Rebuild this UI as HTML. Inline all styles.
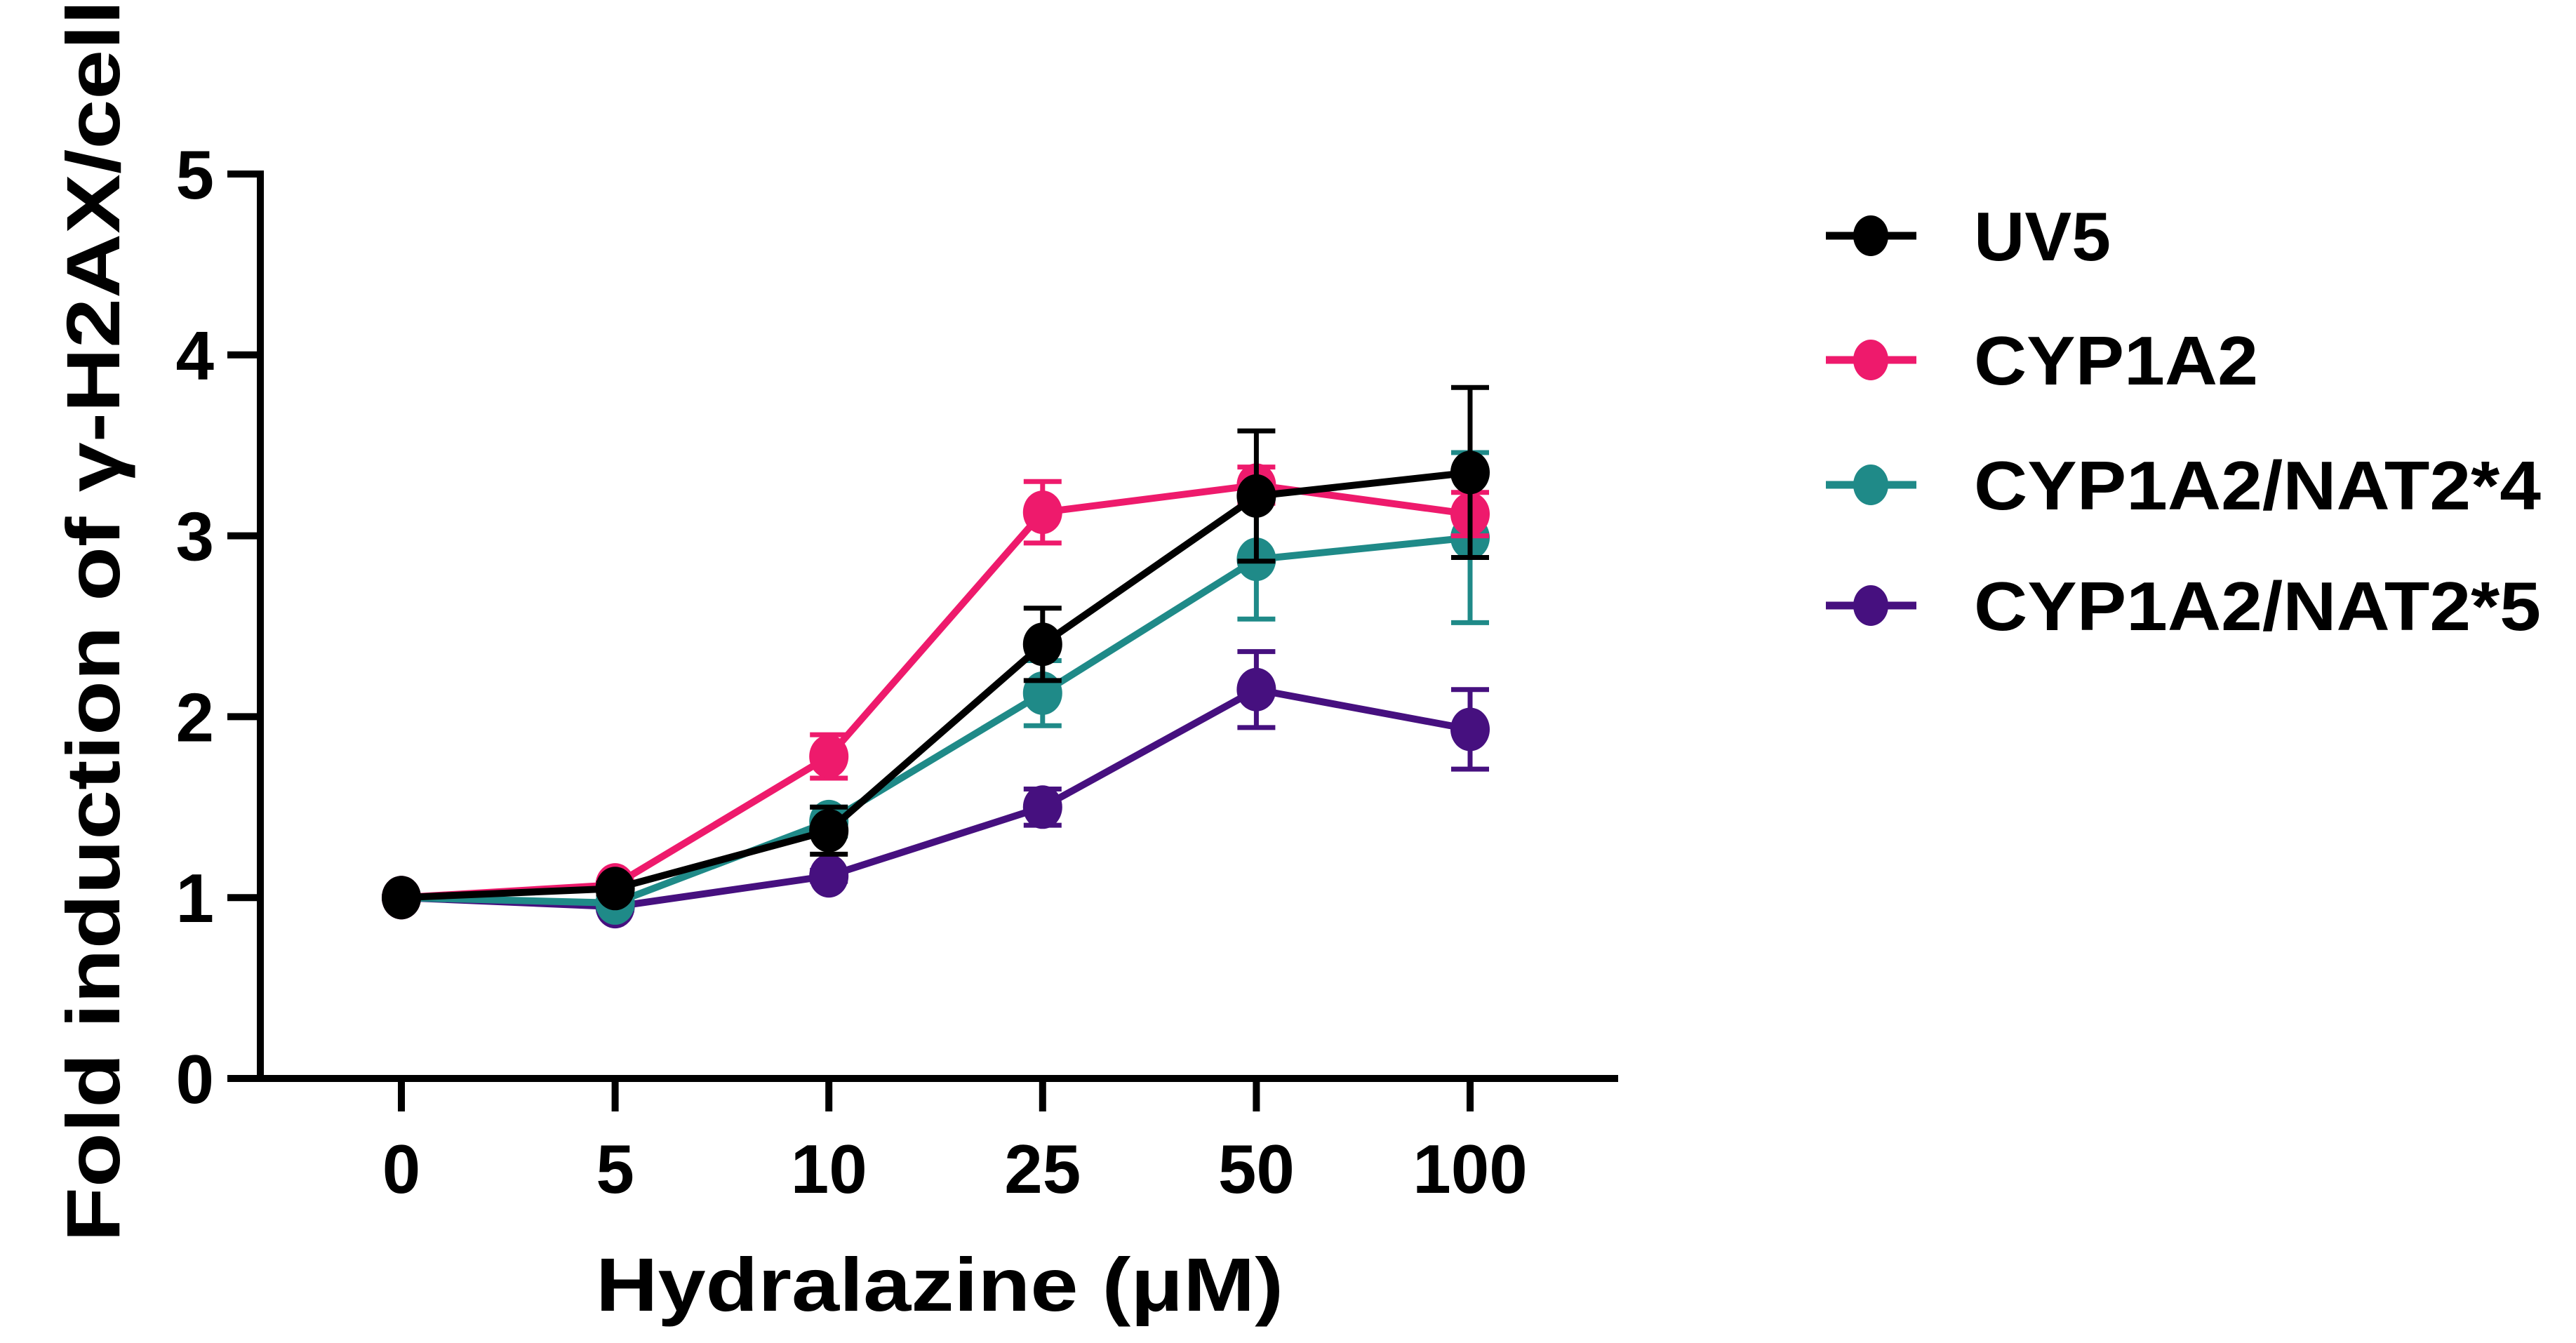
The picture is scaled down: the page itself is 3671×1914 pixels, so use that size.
<!DOCTYPE html>
<html><head><meta charset="utf-8"><style>
html,body{margin:0;padding:0;background:#fff;}
svg{display:block;font-family:"Liberation Sans",Arial,sans-serif;font-weight:bold;}
</style></head><body>
<svg id="chart" width="3671" height="1914" viewBox="0 0 3671 1914" xmlns="http://www.w3.org/2000/svg">
<g id="plot"></g>
<g id="axes"></g>
<g id="legend"></g>
<text x="1339" y="1868" font-size="108" text-anchor="middle" textLength="980" lengthAdjust="spacingAndGlyphs">Hydralazine (μM)</text>
<text transform="translate(170,885) rotate(-90)" font-size="108" text-anchor="middle" textLength="1770" lengthAdjust="spacingAndGlyphs">Fold induction of γ-H2AX/cell</text>
</svg>
<script>
const categories = ["0","5","10","25","50","100"];
const yTicks = [0,1,2,3,4,5];
const seriesNames = ["UV5","CYP1A2","CYP1A2/NAT2*4","CYP1A2/NAT2*5"];
const seriesColors = ["#000000","#ee1a6c","#1f8a88","#46107f"];
const uv5 = [1,1.05,1.37,2.40,3.22,3.35];
const uv5Err = [0,0.03,0.13,0.20,0.36,0.47];
const cyp = [1,1.07,1.78,3.13,3.28,3.12];
const cypErr = [0,0.02,0.12,0.17,0.10,0.12];
const nat4 = [1,0.97,1.42,2.13,2.87,2.99];
const nat4Err = [0,0.03,0.08,0.18,0.33,0.47];
const nat5 = [1,0.95,1.12,1.50,2.15,1.93];
const nat5Err = [0,0.02,0.03,0.10,0.21,0.22];

const NS="http://www.w3.org/2000/svg";
const X0=572, XSTEP=304.6, Y0=1537, YUNIT=257.8;
function xs(i){return X0+i*XSTEP;}
function ys(v){return Y0-v*YUNIT;}
function mk(tag,attrs,parent){const e=document.createElementNS(NS,tag);for(const k in attrs)e.setAttribute(k,attrs[k]);parent.appendChild(e);return e;}
const axes=document.getElementById('axes'), plot=document.getElementById('plot'), legend=document.getElementById('legend');

let a=mk('line',{x1:371,y1:ys(5)-5,x2:371,y2:Y0+5,stroke:'#000','stroke-width':10},axes);


a=mk('line',{x1:324,y1:Y0,x2:2306,y2:Y0,stroke:'#000','stroke-width':10},axes);


yTicks.forEach(t=>{
  let l=mk('line',{x1:324,y1:ys(t),x2:371,y2:ys(t),stroke:'#000','stroke-width':10},axes);
  
  
  let tx=mk('text',{x:305,y:ys(t)+35,'font-size':98,'text-anchor':'end'},axes);
  tx.textContent=t;
  
  
});
categories.forEach((c,i)=>{
  let l=mk('line',{x1:xs(i),y1:Y0,x2:xs(i),y2:Y0+47,stroke:'#000','stroke-width':10},axes);
  
  
  let tx=mk('text',{x:xs(i),y:1700,'font-size':98,'text-anchor':'middle'},axes);
  tx.textContent=c;
  
  
});

const allVals=[uv5,cyp,nat4,nat5], allErr=[uv5Err,cypErr,nat4Err,nat5Err];
const order=[3,2,1,0];
order.forEach(s=>{
  const g=mk('g',{},plot);
  
  
  const col=seriesColors[s], v=allVals[s], e=allErr[s];
  v.forEach((val,i)=>{
    if(e[i]>0){
      const eb=mk('path',{d:`M${xs(i)},${ys(val+e[i])}V${ys(val-e[i])}M${xs(i)-27},${ys(val+e[i])}h54M${xs(i)-27},${ys(val-e[i])}h54`,stroke:col,'stroke-width':7,fill:'none'},g);
      
      
    }
  });
  const ln=mk('polyline',{points:v.map((val,i)=>xs(i)+','+ys(val)).join(' '),stroke:col,'stroke-width':10,fill:'none'},g);
  
  
  v.forEach((val,i)=>{
    const p=mk('ellipse',{cx:xs(i),cy:ys(val),rx:28,ry:31,fill:col},g);
    
    
  });
});

const legY=[336,513,691,863];
seriesNames.forEach((n,s)=>{
  const g=mk('g',{},legend);
  
  
  mk('line',{x1:2602,y1:legY[s],x2:2731,y2:legY[s],stroke:seriesColors[s],'stroke-width':11},g);
  mk('ellipse',{cx:2666,cy:legY[s],rx:25,ry:29,fill:seriesColors[s]},g);
  const t=mk('text',{x:2813,y:legY[s]+35,'font-size':98},g);
  t.textContent=n;
  const w={"UV5":195,"CYP1A2":405,"CYP1A2/NAT2*4":808,"CYP1A2/NAT2*5":808}[n];
  t.setAttribute('textLength',w);
  t.setAttribute('lengthAdjust','spacingAndGlyphs');
});
</script>
</body></html>
